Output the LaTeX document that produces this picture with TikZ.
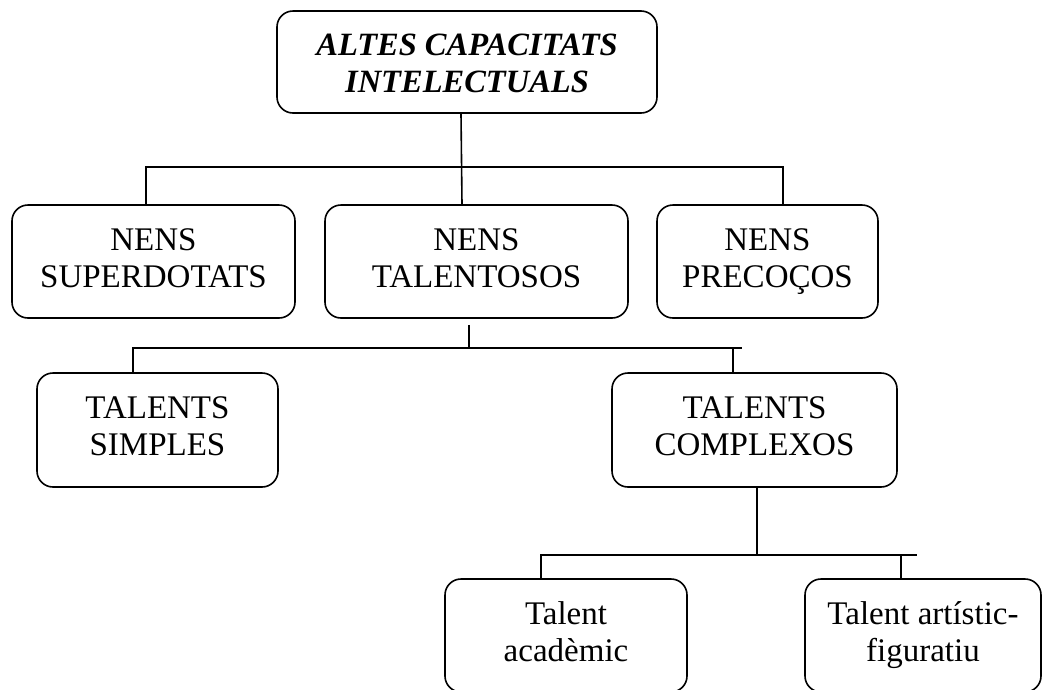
\documentclass[tikz,border=0pt]{standalone}
\usepackage{fontspec}
\setmainfont{Liberation Serif}
\usetikzlibrary{calc}
\newcommand\vstr{\rule[-10pt]{0pt}{34pt}}
\newcommand\tstr{\rule[-5pt]{0pt}{33pt}}
\begin{document}
\begin{tikzpicture}[x=1pt,y=-1pt,
  bx/.style={draw, line width=1.6pt, rounded corners=16pt, align=center, inner sep=0pt,
    font=\fontsize{33}{37}\selectfont},
  ln/.style={line width=1.6pt}]
\useasboundingbox (0,0) rectangle (1042,689);
\clip (0,0) rectangle (1042,689);
\node[bx, minimum width=380pt, minimum height=102pt, font=\fontsize{32.5}{37}\selectfont\bfseries\itshape] (top) at (467,62) {\tstr ALTES CAPACITATS\\\tstr INTELECTUALS};
\node[bx, minimum width=283pt, minimum height=113pt] (sup) at (153.5,261.5) {\vstr NENS\\\vstr SUPERDOTATS};
\node[bx, minimum width=303pt, minimum height=113pt] (tal) at (476.5,261.5) {\vstr NENS\\\vstr TALENTOSOS};
\node[bx, minimum width=221pt, minimum height=113pt] (pre) at (767.5,261.5) {\vstr NENS\\\vstr PRECOÇOS};
\node[bx, minimum width=241pt, minimum height=114pt] (sim) at (157.5,430) {\vstr TALENTS\\\vstr SIMPLES};
\node[bx, minimum width=285pt, minimum height=114pt] (com) at (754.5,430) {\vstr TALENTS\\\vstr COMPLEXOS};
\node[bx, minimum width=242pt, minimum height=113pt] (aca) at (566,635.5) {\vstr Talent\\\vstr acadèmic};
\node[bx, minimum width=236pt, minimum height=113pt] (art) at (923,635.5) {\vstr Talent artístic-\\\vstr figuratiu};
% bar coordinates
\coordinate (b1l) at (146,167);
\coordinate (b1r) at (783,167);
\coordinate (b2l) at (133,348);
\coordinate (b2r) at (742,348);
\coordinate (b2t) at (733,348);
\coordinate (b3l) at (541,555);
\coordinate (b3r) at (917,555);
\coordinate (b3t) at (901,555);
% level 1
\draw[ln] ($(top.south)+(-6,0)$) -- ($(tal.north)+(-14.5,0)$);
\draw[ln] (sup.north -| b1l) -- (b1l) -- (b1r) -- (pre.north -| b1r);
% level 2
\draw[ln] ($(tal.south)+(-7.5,6)$) -- ($(tal.south)+(-7.5,30)$);
\draw[ln] (sim.north -| b2l) -- (b2l) -- (b2r);
\draw[ln] (b2t) -- (com.north -| b2t);
% level 3
\draw[ln] ($(com.south)+(2.5,0)$) -- ($(com.south)+(2.5,68)$);
\draw[ln] (aca.north -| b3l) -- (b3l) -- (b3r);
\draw[ln] (b3t) -- (art.north -| b3t);
\end{tikzpicture}
\end{document}
